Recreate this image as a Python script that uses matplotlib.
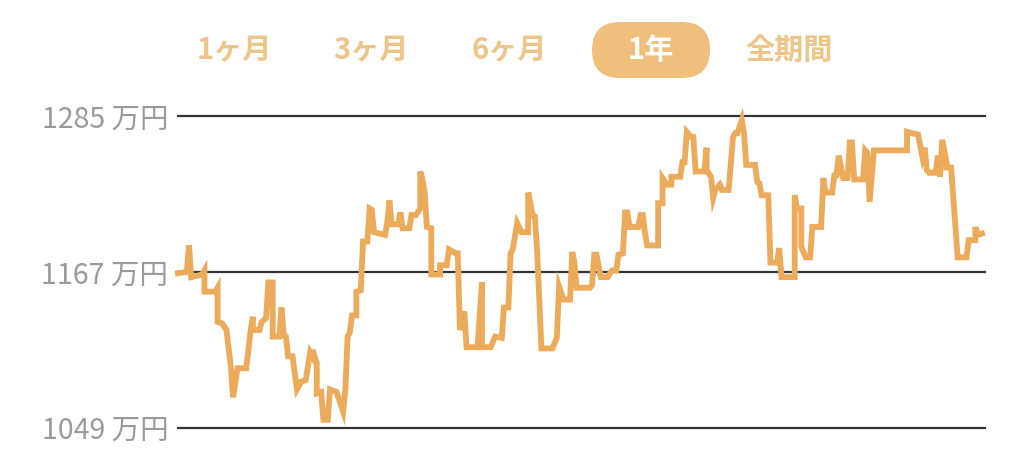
import matplotlib

matplotlib.use("Agg")
import matplotlib.pyplot as plt
from matplotlib.patches import FancyBboxPatch

plt.rcParams["font.family"] = ["Noto Sans CJK JP", "DejaVu Sans"]

# period tabs (selected one is drawn in a pill)
tab_labels = ["1ヶ月", "3ヶ月", "6ヶ月", "1年", "全期間"]
selected_tab = "1年"

# y axis levels (万円)
y_ticks = [1049, 1167, 1285]
y_tick_labels = ["1049 万円", "1167 万円", "1285 万円"]

# asset value over one year: day index and value (万円)
days = [
    0, 4, 5, 6, 11, 12, 12, 17, 18, 18, 20, 22, 24, 25, 27, 31, 33, 34, 34, 37,
    38, 40, 41, 43, 43, 46, 47, 48, 49, 50, 52, 54, 56, 58, 60, 61, 61, 63, 63, 65,
    66, 68, 69, 72, 75, 76, 77, 78, 79, 81, 81, 83, 84, 86, 87, 88, 89, 94, 95, 96,
    97, 100, 101, 102, 105, 106, 108, 110, 110, 111, 112, 113, 115, 115, 119, 119, 122, 123, 126, 127,
    128, 130, 131, 136, 138, 138, 142, 144, 147, 148, 150, 151, 152, 154, 156, 159, 159, 161, 162, 163,
    165, 170, 172, 173, 175, 178, 179, 180, 181, 187, 188, 189, 190, 192, 195, 197, 199, 200, 202, 203,
    204, 205, 209, 210, 211, 212, 213, 218, 218, 220, 220, 222, 224, 224, 228, 229, 230, 231, 233, 234,
    235, 239, 240, 240, 242, 243, 244, 246, 247, 250, 252, 253, 254, 256, 257, 258, 262, 263, 264, 265,
    268, 269, 272, 273, 274, 280, 280, 281, 283, 283, 285, 287, 288, 292, 293, 294, 297, 298, 299, 300,
    302, 304, 305, 306, 307, 311, 312, 313, 314, 316, 331, 331, 333, 336, 338, 339, 340, 341, 344, 345,
    346, 347, 349, 349, 351, 354, 358, 359, 362, 362, 363, 365,
]
values = [
    1166, 1167, 1187, 1163, 1165, 1168, 1152, 1152, 1155, 1129, 1128, 1123, 1095, 1072, 1094, 1094, 1123, 1133, 1123, 1123,
    1129, 1132, 1159, 1159, 1118, 1118, 1140, 1119, 1118, 1103, 1103, 1078, 1084, 1085, 1106, 1103, 1108, 1098, 1075, 1076,
    1055, 1055, 1078, 1076, 1061, 1078, 1118, 1121, 1134, 1134, 1152, 1153, 1190, 1190, 1215, 1214, 1197, 1195, 1204, 1221,
    1203, 1203, 1212, 1200, 1200, 1210, 1210, 1215, 1243, 1237, 1227, 1201, 1200, 1165, 1165, 1172, 1172, 1184, 1181, 1181,
    1123, 1137, 1110, 1110, 1159, 1110, 1110, 1118, 1117, 1140, 1140, 1181, 1184, 1204, 1197, 1197, 1227, 1210, 1209, 1185,
    1109, 1109, 1117, 1156, 1146, 1146, 1182, 1174, 1155, 1155, 1157, 1180, 1180, 1163, 1163, 1168, 1168, 1180, 1181, 1212,
    1212, 1201, 1201, 1210, 1210, 1197, 1187, 1187, 1219, 1219, 1238, 1233, 1233, 1239, 1239, 1250, 1250, 1273, 1269, 1269,
    1243, 1243, 1261, 1244, 1239, 1223, 1229, 1233, 1229, 1229, 1269, 1272, 1272, 1282, 1272, 1248, 1248, 1235, 1234, 1225,
    1225, 1174, 1174, 1185, 1163, 1163, 1225, 1215, 1215, 1186, 1178, 1178, 1201, 1201, 1238, 1227, 1227, 1240, 1240, 1255,
    1238, 1238, 1265, 1265, 1237, 1237, 1259, 1257, 1220, 1259, 1259, 1273, 1272, 1271, 1254, 1261, 1244, 1242, 1242, 1255,
    1239, 1267, 1249, 1246, 1246, 1178, 1178, 1191, 1191, 1201, 1195, 1196,
]

W, H = 1024, 462
fig = plt.figure(figsize=(W / 100, H / 100), dpi=100)

# chart area
ax = fig.add_axes([178 / W, 1 - 427.7 / H, (985 - 178) / W, (427.7 - 116) / H])
ax.plot(days, values, color="#EBAB5A", linewidth=4.2, solid_joinstyle="miter",
        clip_on=False, zorder=3)
ax.set_xlim(0, 366.4)
ax.set_ylim(y_ticks[0], y_ticks[-1])
ax.set_yticks(y_ticks)
ax.set_yticklabels(y_tick_labels)
ax.tick_params(axis="y", length=0, pad=7, labelsize=20.5, labelcolor="#9A9A9A")
ax.set_xticks([])
for ytick in y_ticks:
    ax.axhline(ytick, color="#333333", linewidth=1.6, zorder=2, clip_on=False)
for spine in ax.spines.values():
    spine.set_visible(False)

# overlay in pixel units for the tabs
top = fig.add_axes([0, 0, 1, 1], zorder=-1)
top.set_xlim(0, W)
top.set_ylim(H, 0)
top.axis("off")

tab_centers = [234, 371, 509, 651, 789]
for label, cx in zip(tab_labels, tab_centers):
    if label == selected_tab:
        pill = FancyBboxPatch((592, 22), 118, 56,
                              boxstyle="round,pad=0,rounding_size=28",
                              facecolor="#F1BF7C", edgecolor="none")
        top.add_patch(pill)
        color = "white"
    else:
        color = "#EEC588"
    top.text(cx, 50, label, ha="center", va="center", fontsize=21,
             fontweight="bold", color=color)

fig.savefig("out.png", dpi=100)
plt.close(fig)
